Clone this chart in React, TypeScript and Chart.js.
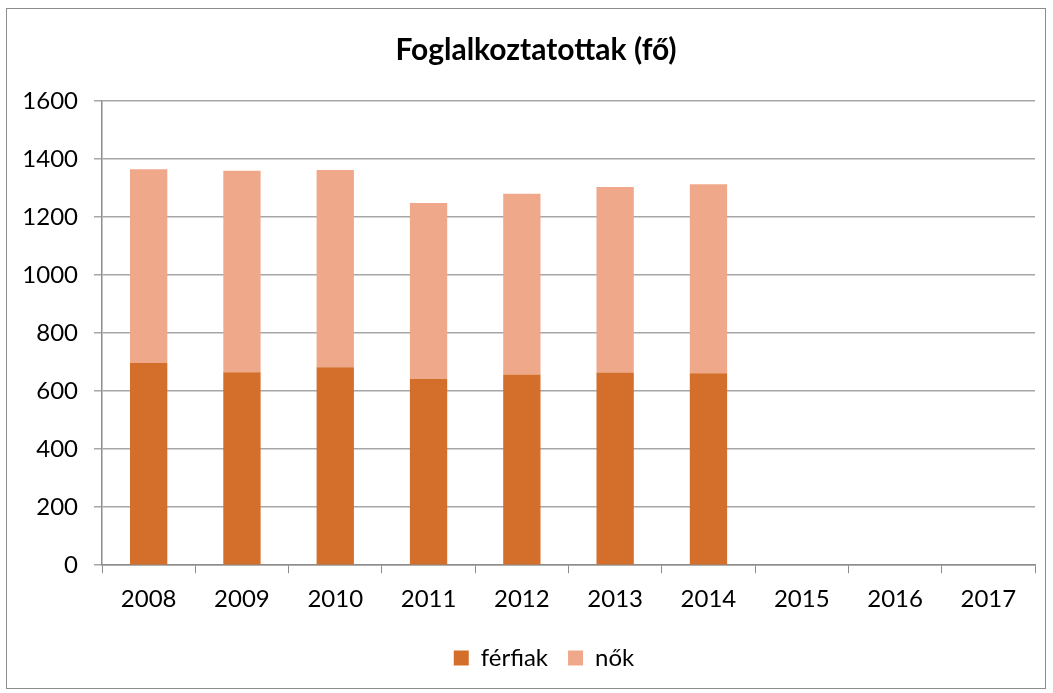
import React, { useEffect, useRef } from "react";
import { Chart, registerables } from "chart.js";

Chart.register(...registerables);

const categories = ["2008", "2009", "2010", "2011", "2012", "2013", "2014", "2015", "2016", "2017"];
const ferfiak = [697, 665, 682, 643, 657, 664, 662, null, null, null];
const nok = [668, 695, 680, 605, 623, 640, 651, null, null, null];
const yTicks = [0, 200, 400, 600, 800, 1000, 1200, 1400, 1600];

const FONT = "Lato, 'Open Sans', sans-serif";

const shiftPlugin = {
  id: "shiftBoxes",
  afterLayout(chart: any) {
    if (chart.legend) { chart.legend.left += 18; chart.legend.right += 18; }
    if (chart.titleBlock) { chart.titleBlock.left += 10; chart.titleBlock.right += 10; }
  },
};

export default function App() {
  const ref = useRef<HTMLCanvasElement | null>(null);
  useEffect(() => {
    document.body.style.margin = "0";
    const ctx = ref.current!;
    const chart = new Chart(ctx, {
      type: "bar",
      data: {
        labels: categories,
        datasets: [
          { label: "férfiak", data: ferfiak as any, backgroundColor: "#D36F2B", barPercentage: 0.8, categoryPercentage: 0.5 },
          { label: "nők", data: nok as any, backgroundColor: "#F0A88A", barPercentage: 0.8, categoryPercentage: 0.5 },
        ],
      },
      plugins: [shiftPlugin],
      options: {
        animation: false,
        responsive: false,
        layout: { padding: { left: 10, right: 10, top: 0, bottom: 8 } },
        plugins: {
          title: {
            display: true,
            text: "Foglalkoztatottak (fő)",
            color: "#000",
            font: { family: FONT, size: 30, weight: "bold" },
            padding: { top: 23, bottom: 33 },
          },
          legend: {
            position: "bottom",
            labels: {
              color: "#000",
              font: { family: FONT, size: 24 },
              boxWidth: 15,
              boxHeight: 15,
              padding: 20,
            },
          },
          tooltip: { enabled: false },
        },
        scales: {
          x: {
            stacked: true,
            grid: { display: true, drawOnChartArea: false, tickLength: 8, color: "#8c8c8c", offset: true },
            border: { color: "#8c8c8c", width: 1.5 },
            ticks: { color: "#000", font: { family: FONT, size: 24 }, padding: 12 },
          },
          y: {
            stacked: true,
            min: 0,
            max: 1600,
            afterBuildTicks: (s: any) => { s.ticks = yTicks.map((v) => ({ value: v })); },
            afterFit: (s: any) => { s.width = 85; },
            grid: { color: "#a6a6a6", lineWidth: 1.5, tickLength: 8 },
            border: { color: "#8c8c8c", width: 1.5 },
            ticks: { color: "#000", font: { family: FONT, size: 24 }, padding: 16, callback: (v: any) => String(v) },
          },
        },
      },
    });
    return () => chart.destroy();
  }, []);
  return (
    <div style={{ position: "absolute", left: 6, top: 8, width: 1038, height: 679, border: "1px solid #8c8c8c", background: "#fff" }}>
      <canvas ref={ref} width={1038} height={679} style={{ display: "block" }} />
    </div>
  );
}
